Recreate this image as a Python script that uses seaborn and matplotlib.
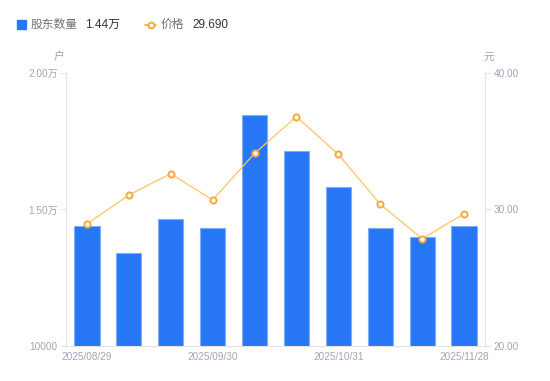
import numpy as np
import pandas as pd
import matplotlib
matplotlib.use("Agg")
import matplotlib.pyplot as plt
import seaborn as sns
from matplotlib.lines import Line2D
from matplotlib.patches import Rectangle

# 数据
dates = ["2025/08/29", "2025/09/10", "2025/09/19", "2025/09/30", "2025/10/10",
         "2025/10/20", "2025/10/31", "2025/11/10", "2025/11/20", "2025/11/28"]
holders = [14396, 13395, 14640, 14310, 18462, 17131, 15836, 14322, 13993, 14400]
price = [28.94, 31.06, 32.62, 30.70, 34.11, 36.80, 34.04, 30.38, 27.86, 29.69]
left_ticks = [10000, 15000, 20000]
left_labels = ["10000", "1.50万", "2.00万"]
right_ticks = [20, 30, 40]
right_labels = ["20.00", "30.00", "40.00"]

BLUE = "#2776F6"
ORANGE = "#F7A93A"
LINE_ORANGE = "#FBC464"
TICK_C = "#A3A3B5"
AXIS_C = "#E3E3E8"

sns.set_style("white")
plt.rcParams["font.family"] = ["Liberation Sans", "Noto Sans CJK SC", "DejaVu Sans"]
CJK = ["Noto Sans CJK SC", "DejaVu Sans"]

df = pd.DataFrame({"date": dates, "holders": holders, "price": price})

fig = plt.figure(figsize=(5.5, 3.81), dpi=100)
ax = fig.add_axes([0.12, 0.0919, 0.7618, 0.7165])

sns.barplot(data=df, x="date", y="holders", color=BLUE, width=0.6,
            saturation=1, edgecolor="#7FADF8", linewidth=0.8, ax=ax)
ax.set_ylim(10000, 20000)
ax.set_xlim(-0.5, len(dates) - 0.5)
ax.set_yticks(left_ticks)
ax.set_yticklabels(left_labels)
ax.set_xlabel("")
ax.set_ylabel("")

# x 轴每隔 3 个显示一个标签
ax.set_xticks(range(0, len(dates), 3))
ax.set_xticklabels(dates[::3])

ax2 = ax.twinx()
sns.lineplot(x=np.arange(len(price)), y=price, ax=ax2, color=LINE_ORANGE,
             linewidth=0.9, marker="o", markersize=4.4, markerfacecolor="white",
             markeredgecolor=ORANGE, markeredgewidth=1.4, zorder=5)
ax2.set_ylim(20, 40)
ax2.set_yticks(right_ticks)
ax2.set_yticklabels(right_labels)

for a in (ax, ax2):
    for s in a.spines.values():
        s.set_visible(False)
    a.grid(False)
ax.spines["left"].set_visible(True)
ax.spines["left"].set_color(AXIS_C)
ax.spines["bottom"].set_visible(True)
ax.spines["bottom"].set_color(AXIS_C)
ax2.spines["right"].set_visible(True)
ax2.spines["right"].set_color(AXIS_C)

ax.tick_params(axis="y", length=4, width=0.8, color=AXIS_C, labelcolor=TICK_C,
               labelsize=7.2, pad=2)
ax.tick_params(axis="x", length=0, labelcolor=TICK_C, labelsize=7.2, pad=4)
ax2.tick_params(axis="y", length=4, width=0.8, color=AXIS_C, labelcolor=TICK_C,
                labelsize=7.2, pad=2)

# 单位
fig.text(59 / 550, 1 - 57 / 381, "户", color=TICK_C, fontsize=7.8, ha="center",
         va="center", family=CJK)
fig.text(489 / 550, 1 - 57 / 381, "元", color=TICK_C, fontsize=7.8, ha="center",
         va="center", family=CJK)

# 图例
fig.add_artist(Rectangle((17 / 550, 1 - 29 / 381), 9 / 550, 9 / 381,
                         transform=fig.transFigure, color=BLUE))
fig.text(31 / 550, 1 - 24.5 / 381, "股东数量", color="#707070", fontsize=8.5,
         va="center", family=CJK)
fig.text(85 / 550, 1 - 24.5 / 381, f"{holders[-1] / 10000:.2f}万", color="#333333",
         fontsize=8.5, va="center")
fig.add_artist(Line2D([145 / 550, 156 / 550], [1 - 24.5 / 381, 1 - 24.5 / 381],
                      transform=fig.transFigure, color=ORANGE, linewidth=1.2))
fig.add_artist(Line2D([150.5 / 550], [1 - 24.5 / 381], transform=fig.transFigure,
                      marker="o", markersize=4.2, markerfacecolor="white",
                      markeredgecolor=ORANGE, markeredgewidth=1.4))
fig.text(161 / 550, 1 - 24.5 / 381, "价格", color="#707070", fontsize=8.5,
         va="center", family=CJK)
fig.text(192 / 550, 1 - 24.5 / 381, f"{price[-1]:.3f}", color="#333333",
         fontsize=8.5, va="center")

fig.savefig("out.png", dpi=100)
